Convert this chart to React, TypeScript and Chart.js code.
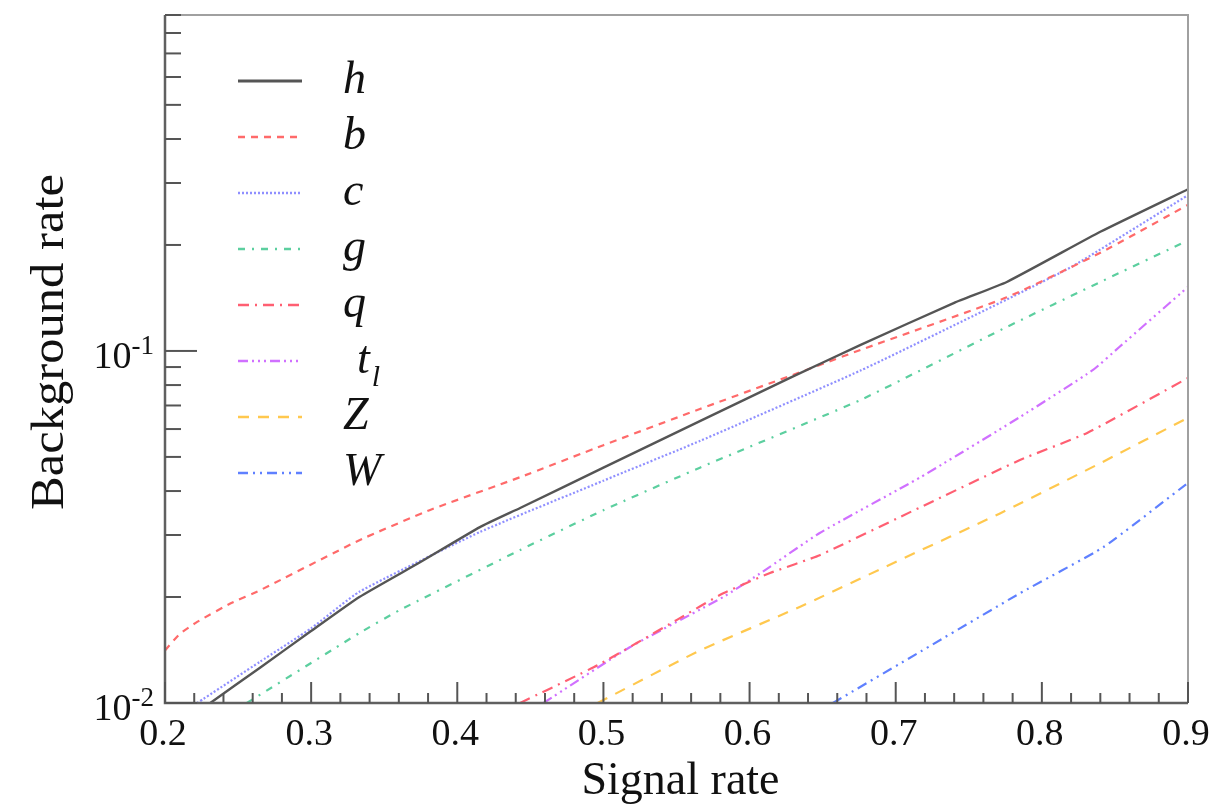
import React, { useEffect, useRef } from "react";
import { Chart, registerables } from "chart.js";

Chart.register(...registerables);

const SERIF = "'Liberation Serif', 'Times New Roman', serif";

// ---- data ----
const hX = [0.231, 0.265, 0.299, 0.333, 0.3745, 0.4155, 0.443, 0.5, 0.566, 0.628, 0.676, 0.74, 0.776, 0.84, 0.9];
const hY = [0.01, 0.0126, 0.0159, 0.02, 0.0251, 0.0316, 0.0358, 0.0466, 0.0632, 0.084, 0.104, 0.137, 0.157, 0.218, 0.288];

const bX = [0.2, 0.21, 0.222, 0.245, 0.265, 0.333, 0.381, 0.443, 0.5, 0.566, 0.628, 0.676, 0.776, 0.84, 0.9];
const bY = [0.0141, 0.0157, 0.0170, 0.0192, 0.0209, 0.029, 0.0353, 0.0438, 0.054, 0.0684, 0.085, 0.1007, 0.142, 0.19, 0.26];

const cX = [0.222, 0.265, 0.3, 0.333, 0.4155, 0.5, 0.566, 0.676, 0.776, 0.821, 0.9];
const cY = [0.01, 0.0131, 0.0163, 0.0207, 0.0306, 0.0428, 0.0555, 0.088, 0.14, 0.174, 0.277];

const gX = [0.256, 0.333, 0.361, 0.443, 0.5, 0.566, 0.676, 0.776, 0.84, 0.9];
const gY = [0.01, 0.0158, 0.0184, 0.0272, 0.0353, 0.0466, 0.0726, 0.117, 0.157, 0.206];

const qX = [0.443, 0.496, 0.55, 0.582, 0.614, 0.648, 0.717, 0.785, 0.831, 0.9];
const qY = [0.01, 0.0128, 0.0172, 0.0205, 0.0234, 0.0263, 0.036, 0.049, 0.0585, 0.0838];

const tlX = [0.459, 0.518, 0.582, 0.609, 0.648, 0.717, 0.785, 0.835, 0.853, 0.9];
const tlY = [0.01, 0.0144, 0.02, 0.0236, 0.0304, 0.0438, 0.0649, 0.0883, 0.1026, 0.152];

const zX = [0.496, 0.566, 0.635, 0.703, 0.771, 0.84, 0.9];
const zY = [0.01, 0.0141, 0.0188, 0.0255, 0.0345, 0.048, 0.0646];

const wX = [0.657, 0.717, 0.785, 0.842, 0.9];
const wY = [0.01, 0.014, 0.0205, 0.0277, 0.0422];

const seriesLabels = ["h", "b", "c", "g", "q", "t_l", "Z", "W"];

const xTickLabels = ["0.2", "0.3", "0.4", "0.5", "0.6", "0.7", "0.8", "0.9"];
const yTickValues = [0.01, 0.1];
const yTickExponents = ["-2", "-1"];

const X_MIN = 0.2;
const X_MAX = 0.9;
const Y_MIN = 0.01;
const Y_MAX = 0.9;

const xTitle = "Signal rate";
const yTitle = "Background rate";

// ---- styles ----
const styles = [
  { color: "#555555", dash: [], width: 2.4 },
  { color: "#ff6a6a", dash: [7, 6], width: 2.2 },
  { color: "#8f8fff", dash: [2, 2], width: 2.2 },
  { color: "#5ccf9f", dash: [7, 7, 2, 7], width: 2.2 },
  { color: "#ff5f72", dash: [11, 6, 2, 6], width: 2.2 },
  { color: "#d070ff", dash: [10, 4, 2, 4, 2, 4, 2, 4], width: 2.2 },
  { color: "#ffc84e", dash: [11, 9], width: 2.2 },
  { color: "#5f80ff", dash: [10, 5, 2, 5, 2, 5], width: 2.2 },
];

const seriesX = [hX, bX, cX, gX, qX, tlX, zX, wX];
const seriesY = [hY, bY, cY, gY, qY, tlY, zY, wY];

const decorPlugin = {
  id: "rootDecor",
  afterDraw(chart: any) {
    const ctx = chart.ctx as CanvasRenderingContext2D;
    const area = chart.chartArea;
    const xs = chart.scales.x;
    const ys = chart.scales.y;
    ctx.save();

    // frame
    ctx.lineCap = "butt";
    ctx.strokeStyle = "#a0a0a0";
    ctx.lineWidth = 2;
    ctx.beginPath();
    ctx.moveTo(area.left, area.top);
    ctx.lineTo(area.right, area.top);
    ctx.lineTo(area.right, area.bottom);
    ctx.stroke();
    ctx.strokeStyle = "#606060";
    ctx.lineWidth = 2.5;
    ctx.beginPath();
    ctx.moveTo(area.left, area.top);
    ctx.lineTo(area.left, area.bottom);
    ctx.lineTo(area.right, area.bottom);
    ctx.stroke();

    // x ticks
    ctx.strokeStyle = "#555555";
    ctx.lineWidth = 2;
    const nX = Math.round((X_MAX - X_MIN) / 0.02);
    for (let i = 0; i <= nX; i++) {
      const v = X_MIN + i * 0.02;
      const px = xs.getPixelForValue(v);
      const len = i % 5 === 0 ? 21 : 10;
      ctx.beginPath();
      ctx.moveTo(px, area.bottom);
      ctx.lineTo(px, area.bottom - len);
      ctx.stroke();
    }
    // y ticks
    for (const dec of [0.01, 0.1]) {
      for (let k = 1; k <= 9; k++) {
        const v = dec * k;
        if (v > Y_MAX + 1e-9) continue;
        const py = ys.getPixelForValue(v);
        const len = k === 1 ? 32 : 16;
        ctx.beginPath();
        ctx.moveTo(area.left, py);
        ctx.lineTo(area.left + len, py);
        ctx.stroke();
      }
    }

    // x tick labels
    ctx.fillStyle = "#111111";
    ctx.font = `38px ${SERIF}`;
    ctx.textAlign = "center";
    ctx.textBaseline = "alphabetic";
    xTickLabels.forEach((lab) => {
      const px = xs.getPixelForValue(parseFloat(lab));
      ctx.fillText(lab, px - 2, area.bottom + 42);
    });

    // y tick labels with superscript
    yTickValues.forEach((v, i) => {
      const py = ys.getPixelForValue(v);
      ctx.font = `27px ${SERIF}`;
      const sup = yTickExponents[i];
      const supW = ctx.measureText(sup).width;
      const right = area.left - 11;
      ctx.textAlign = "left";
      ctx.fillText(sup, right - supW, py + 3);
      ctx.font = `38px ${SERIF}`;
      ctx.textAlign = "right";
      ctx.fillText("10", right - supW, py + 17);
    });

    // axis titles
    ctx.font = `46px ${SERIF}`;
    ctx.textAlign = "center";
    ctx.fillText(xTitle, (area.left + area.right) / 2 + 4, area.bottom + 91);
    ctx.save();
    ctx.translate(63, 342);
    ctx.rotate(-Math.PI / 2);
    ctx.scale(1.1, 1);
    ctx.fillText(yTitle, 0, 0);
    ctx.restore();

    // legend
    const legX0 = 238;
    const legX1 = 302;
    const textX = 343;
    const row0 = 81;
    const rowStep = 56;
    chart.data.datasets.forEach((ds: any, i: number) => {
      const y = row0 + i * rowStep;
      ctx.save();
      ctx.strokeStyle = ds.borderColor;
      ctx.lineWidth = i === 0 ? 3 : 2.5;
      ctx.setLineDash(ds.borderDash || []);
      ctx.beginPath();
      ctx.moveTo(legX0, y);
      ctx.lineTo(legX1, y);
      ctx.stroke();
      ctx.restore();
      const parts = String(ds.label).split("_");
      ctx.fillStyle = "#111111";
      ctx.textAlign = "left";
      ctx.font = `italic 46px ${SERIF}`;
      if (parts.length > 1) {
        ctx.fillText(parts[0], textX + 14, y + 12);
        const w = ctx.measureText(parts[0]).width;
        ctx.font = `italic 30px ${SERIF}`;
        ctx.fillText(parts[1], textX + 14 + w + 2, y + 25);
      } else {
        ctx.fillText(parts[0], textX, y + 12);
      }
    });

    ctx.restore();
  },
};

export default function App() {
  const canvasRef = useRef<HTMLCanvasElement | null>(null);

  useEffect(() => {
    if (!canvasRef.current) return;
    const datasets = seriesLabels.map((label, i) => ({
      label,
      data: seriesX[i].map((x, j) => ({ x, y: seriesY[i][j] })),
      borderColor: styles[i].color,
      backgroundColor: styles[i].color,
      borderDash: styles[i].dash,
      borderWidth: styles[i].width,
      pointRadius: 0,
      fill: false,
      tension: 0.15,
    }));

    const chart = new Chart(canvasRef.current, {
      type: "line",
      data: { datasets },
      options: {
        animation: false,
        responsive: false,
        maintainAspectRatio: false,
        layout: { padding: { top: 15, right: 27, left: 0, bottom: 0 } },
        plugins: {
          legend: { display: false },
          tooltip: { enabled: false },
          title: { display: false },
        },
        scales: {
          x: {
            type: "linear",
            min: X_MIN,
            max: X_MAX,
            grid: { display: false },
            border: { display: false },
            ticks: { display: false },
            afterFit: (s: any) => {
              s.height = 105;
            },
          },
          y: {
            type: "logarithmic",
            min: Y_MIN,
            max: Y_MAX,
            grid: { display: false },
            border: { display: false },
            ticks: { display: false },
            afterFit: (s: any) => {
              s.width = 165;
            },
          },
        },
      },
      plugins: [decorPlugin],
    });
    return () => chart.destroy();
  }, []);

  return (
    <div style={{ position: "fixed", left: 0, top: 0, width: 1215, height: 808, background: "#ffffff" }}>
      <canvas ref={canvasRef} width={1215} height={808} style={{ display: "block" }} />
    </div>
  );
}
